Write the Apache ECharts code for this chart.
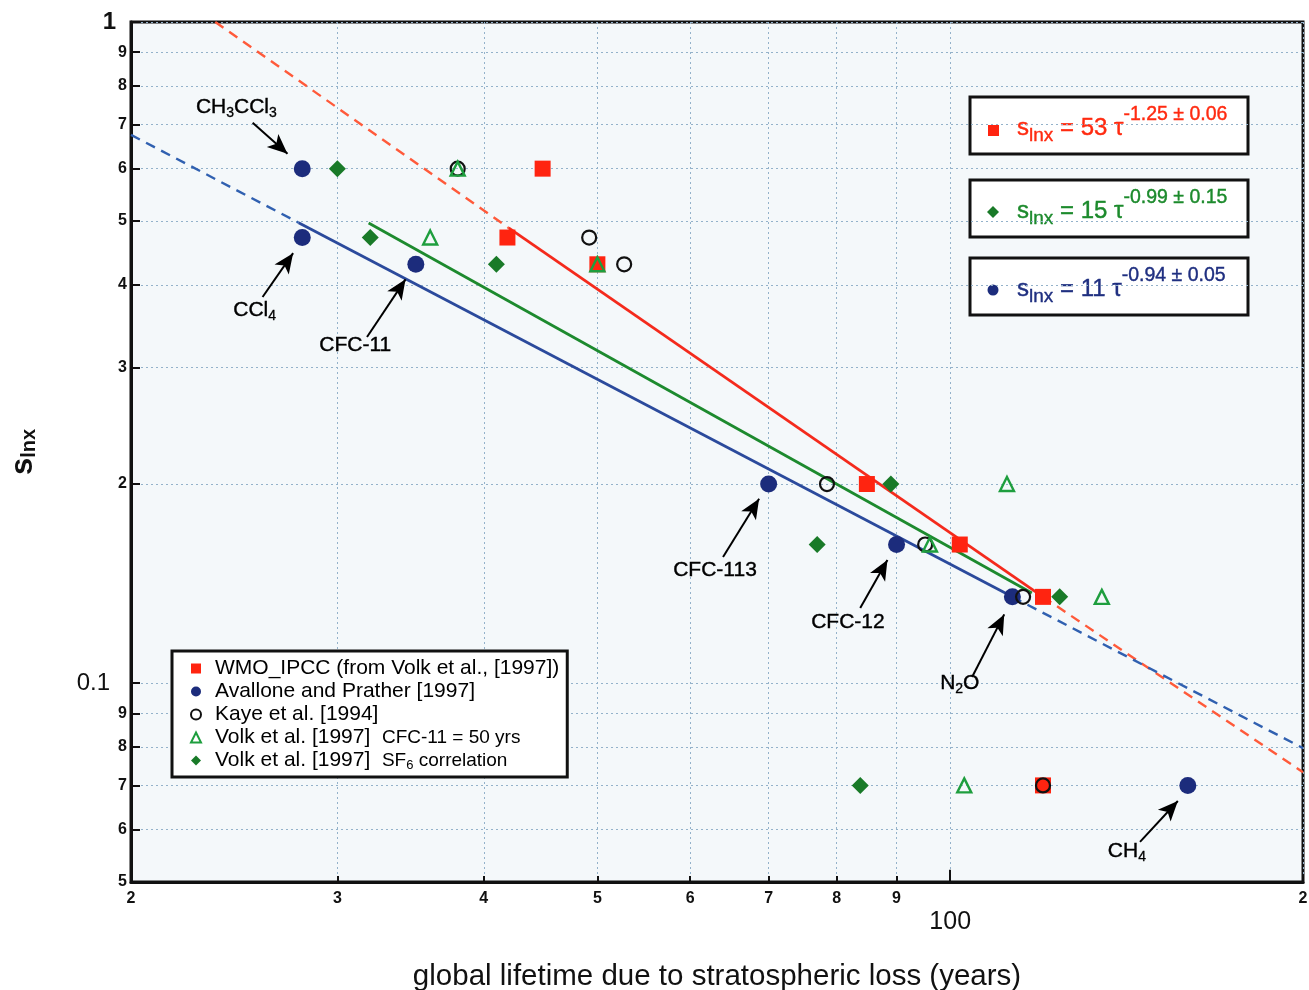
<!DOCTYPE html>
<html><head><meta charset="utf-8">
<script src="https://cdn.jsdelivr.net/npm/echarts@6/dist/echarts.min.js"></script>
<style>html,body{margin:0;padding:0;background:#fff}#chart{width:1309px;height:990px}</style>
</head><body><div id="chart"></div>
<script>
// ---------- axis ticks ----------
const xTicks = [20, 30, 40, 50, 60, 70, 80, 90, 100, 200];
const yTicks = [0.05, 0.06, 0.07, 0.08, 0.09, 0.1, 0.2, 0.3, 0.4, 0.5, 0.6, 0.7, 0.8, 0.9, 1];

// ---------- data (lifetime [yr], s_lnx) ----------
const wmoData      = [[44.9, 0.6], [41.9, 0.472], [50, 0.43], [84.9, 0.2], [101.9, 0.162], [120, 0.135], [120, 0.07]];
const avalloneData = [[28, 0.6], [28, 0.472], [35, 0.43], [70, 0.2], [90, 0.162], [113, 0.135], [159.5, 0.07]];
const kayeData     = [[38, 0.6], [49.2, 0.472], [52.7, 0.43], [78.5, 0.2], [95.2, 0.162], [115.4, 0.135], [120, 0.07]];
const volk50Data   = [[38, 0.6], [36, 0.472], [50, 0.43], [111.8, 0.2], [96.1, 0.162], [134.7, 0.135], [102.8, 0.07]];
const volkSF6Data  = [[30, 0.6], [32, 0.472], [41, 0.43], [89, 0.2], [77, 0.162], [124, 0.135], [83.8, 0.07]];

// ---------- fit lines ----------
const redFitSolid   = [[42, 0.488], [120, 0.135]];
const redFitLeft    = [[23.6, 1.0], [42, 0.488]];
const redFitRight   = [[120, 0.135], [200, 0.0733]];
const blueFitSolid  = [[27.8, 0.497], [113, 0.135]];
const blueFitLeft   = [[20, 0.675], [27.8, 0.497]];
const blueFitRight  = [[113, 0.135], [200, 0.0797]];
const greenFitSolid = [[31.9, 0.4966], [117.4, 0.1368]];

// ---------- annotations ----------
const annotNames = ['CH{sub|3}CCl{sub|3}', 'CCl{sub|4}', 'CFC-11', 'CFC-113', 'CFC-12', 'N{sub|2}O', 'CH{sub|4}'];
const annotTextPos = [[24.6, 0.744], [25.5, 0.3666], [31.07, 0.3246], [63.0, 0.148], [81.8, 0.1237], [101.9, 0.1], [141.5, 0.0557]];
const arrowTail = [[25.4, 0.704], [25.9, 0.3837], [31.8, 0.3338], [64.0, 0.1551], [83.8, 0.1299], [104.4, 0.1021], [145.2, 0.0575]];
const arrowHead = [[27.2, 0.632], [27.5, 0.4470], [34.3, 0.4080], [68.7, 0.1900], [88.4, 0.1535], [111.2, 0.1270], [156.4, 0.0663]];

// ---------- legend / equation text ----------
const seriesNames = ['WMO_IPCC (from Volk et al., [1997])', 'Avallone and Prather [1997]', 'Kaye et al. [1994]',
  'Volk et al. [1997]  CFC-11 = 50 yrs', 'Volk et al. [1997]  SF6 correlation'];
const fitCoefs = ['53', '15', '11'];
const fitExps = ['-1.25 ± 0.06', '-0.99 ± 0.15', '-0.94 ± 0.05'];

const FONT = '"Liberation Sans", Arial, Helvetica, sans-serif';
const C_RED = '#ff2410', C_NAVY = '#1c2c7c', C_TRI = '#1e9e3e', C_DIA = '#197a28';
const C_REDLINE = '#f42a1c', C_REDDASH = '#ff5a3a', C_GREENLINE = '#1d8a2e', C_BLUELINE = '#2b4a9c', C_BLUEDASH = '#3060b0';
const C_EQ = ['#ff2a10', '#1c8a2c', '#1f2f80'];

function fitLine(data, color, dashed, width) {
  return { type: 'line', data: data, showSymbol: false, symbol: 'none', silent: true, z: 2, animation: false,
    lineStyle: { color: color, width: width || 2.6, type: dashed ? [10, 7] : 'solid' } };
}

function eqBox(i, top, marker) {
  const children = [
    { type: 'rect', shape: { x: 0, y: 0, width: 278, height: 57 }, style: { fill: '#fff', stroke: '#111', lineWidth: 3 } },
    marker,
    { type: 'text', x: 47, y: 31, style: {
      text: '{s|s}{sub|lnx}{m| = ' + fitCoefs[i] + ' τ}{sup|' + fitExps[i] + '}',
      verticalAlign: 'middle', align: 'left', fill: C_EQ[i], font: '24px ' + FONT,
      stroke: C_EQ[i], lineWidth: 0.4,
      rich: {
        s: { fontSize: 24, fontFamily: FONT, fill: C_EQ[i], stroke: C_EQ[i], lineWidth: 0.4 },
        sub: { fontSize: 19, fontFamily: FONT, fill: C_EQ[i], stroke: C_EQ[i], lineWidth: 0.4, padding: [16, 0, 0, 0] },
        m: { fontSize: 24, fontFamily: FONT, fill: C_EQ[i], stroke: C_EQ[i], lineWidth: 0.4 },
        sup: { fontSize: 19.5, fontFamily: FONT, fill: C_EQ[i], stroke: C_EQ[i], lineWidth: 0.4, padding: [0, 0, 26, 0] }
      } } }
  ];
  return { type: 'group', x: 970, y: top, children: children, z: 100 };
}

const chart = echarts.init(document.getElementById('chart'), null, { renderer: 'canvas' });

const option = {
  animation: false,
  backgroundColor: '#fff',
  grid: { left: 131, right: 6, top: 22, bottom: 108, show: true, backgroundColor: '#f4f8fa',
    borderColor: '#111', borderWidth: 3, containLabel: false, outerBoundsMode: 'none' },
  xAxis: {
    type: 'log', logBase: 10, min: 20, max: 200,
    axisLine: { show: true, lineStyle: { color: '#111', width: 3 } },
    axisTick: { show: true, inside: true, length: 6, customValues: xTicks, lineStyle: { color: '#111', width: 2 } },
    axisLabel: { show: true, customValues: xTicks, margin: 9, showMinLabel: true, showMaxLabel: true,
      fontFamily: FONT, fontWeight: 'bold', fontSize: 16, color: '#111',
      formatter: function (v) { const r = Math.round(v); if (r === 100) return '{big|100}'; if (r === 200) return '2'; return String(r / 10); },
      rich: { big: { fontSize: 25, fontWeight: 'normal', fontFamily: FONT, color: '#111', padding: [19, 0, 0, 0] } } },
    splitLine: { show: true, lineStyle: { color: '#94b2ca', type: [2, 3], width: 1 } },
    name: 'global lifetime due to stratospheric loss (years)', nameLocation: 'middle', nameGap: 80,
    nameTextStyle: { fontSize: 29.5, fontFamily: FONT, color: '#111' }
  },
  yAxis: {
    type: 'log', logBase: 10, min: 0.05, max: 1,
    axisLine: { show: true, lineStyle: { color: '#111', width: 3 } },
    axisTick: { show: true, inside: true, length: 9, customValues: yTicks, lineStyle: { color: '#111', width: 2 } },
    axisLabel: { show: true, customValues: yTicks, margin: 4, showMinLabel: true, showMaxLabel: true,
      fontFamily: FONT, fontWeight: 'bold', fontSize: 16, color: '#111',
      formatter: function (v) {
        if (Math.abs(v - 1) < 1e-9) return '{one|1}';
        if (Math.abs(v - 0.1) < 1e-9) return '{big|0.1}';
        if (v < 0.1) return String(Math.round(v * 100));
        return String(Math.round(v * 10));
      },
      rich: {
        one: { fontSize: 24, fontWeight: 'bold', fontFamily: FONT, color: '#111', padding: [0, 11, 0, 0] },
        big: { fontSize: 24, fontWeight: 'normal', fontFamily: FONT, color: '#111', padding: [0, 17, 0, 0] }
      } },
    splitLine: { show: true, lineStyle: { color: '#94b2ca', type: [2, 3], width: 1 } },
    name: '{s|s}{sub|lnx}', nameLocation: 'middle', nameGap: 92, nameRotate: 90,
    nameTextStyle: { color: '#111', fontFamily: FONT,
      rich: { s: { fontSize: 31, fontWeight: 'bold', fontFamily: FONT, color: '#111' },
              sub: { fontSize: 20, fontWeight: 'bold', fontFamily: FONT, color: '#111', padding: [12, 0, 0, 0] } } }
  },
  legend: {
    left: 172, top: 651, orient: 'vertical', selectedMode: false,
    data: seriesNames,
    backgroundColor: '#fff', borderColor: '#111', borderWidth: 3, borderRadius: 0,
    padding: [6, 8, 5, 18], itemWidth: 10, itemHeight: 10, itemGap: 0, symbolKeepAspect: true,
    textStyle: { fontFamily: FONT, fontSize: 21, color: '#000', lineHeight: 23,
      rich: { g: { width: 9, fontSize: 21, fontFamily: FONT },
              sm: { fontSize: 19, fontFamily: FONT, color: '#000' },
              sb: { fontSize: 13, fontFamily: FONT, color: '#000', lineHeight: 13, padding: [10, 0, 0, 0] } } },
    formatter: function (name) {
      if (name === seriesNames[3]) return '{g| }Volk et al. [1997]  {sm|CFC-11 = 50 yrs}';
      if (name === seriesNames[4]) return '{g| }Volk et al. [1997]  {sm|SF}{sb|6}{sm| correlation}';
      return '{g| }' + name;
    }
  },
  graphic: [
    eqBox(0, 97, { type: 'rect', shape: { x: 18, y: 28, width: 11, height: 11 }, style: { fill: C_RED } }),
    eqBox(1, 180, { type: 'polygon', shape: { points: [[23, 26], [29, 32], [23, 38], [17, 32]] }, style: { fill: C_DIA } }),
    eqBox(2, 258, { type: 'circle', shape: { cx: 23, cy: 32, r: 5.5 }, style: { fill: C_NAVY } })
  ],
  series: [
    fitLine(redFitLeft, C_REDDASH, true, 2.4),
    fitLine(redFitRight, C_REDDASH, true, 2.4),
    fitLine(blueFitLeft, C_BLUEDASH, true, 2.4),
    fitLine(blueFitRight, C_BLUEDASH, true, 2.4),
    fitLine(blueFitSolid, C_BLUELINE, false, 2.8),
    fitLine(greenFitSolid, C_GREENLINE, false, 2.8),
    fitLine(redFitSolid, C_REDLINE, false, 2.8),
    { name: seriesNames[0], type: 'scatter', data: wmoData, symbol: 'rect', symbolSize: 16, z: 3, symbolKeepAspect: true,
      itemStyle: { color: C_RED, opacity: 1 } },
    { name: seriesNames[1], type: 'scatter', data: avalloneData, symbol: 'circle', symbolSize: 17, z: 4, symbolKeepAspect: true,
      itemStyle: { color: C_NAVY, opacity: 1 } },
    { name: seriesNames[2], type: 'scatter', data: kayeData, symbol: 'circle', symbolSize: 14, z: 5, symbolKeepAspect: true,
      itemStyle: { color: 'rgba(0,0,0,0)', borderColor: '#111', borderWidth: 2.2, opacity: 1 } },
    { name: seriesNames[3], type: 'scatter', data: volk50Data, symbol: 'triangle', symbolSize: 14, z: 6, symbolKeepAspect: true,
      itemStyle: { color: 'rgba(0,0,0,0)', borderColor: C_TRI, borderWidth: 2.4, opacity: 1 } },
    { name: seriesNames[4], type: 'scatter', data: volkSF6Data, symbol: 'diamond', symbolSize: 17, z: 7, symbolKeepAspect: true,
      itemStyle: { color: C_DIA, opacity: 1 } },
    { name: 'annotations', type: 'scatter', silent: true, z: 8, symbolSize: 1,
      itemStyle: { color: 'rgba(0,0,0,0)' },
      data: annotTextPos.map(function (p, i) { return { value: p, lbl: annotNames[i] }; }),
      label: { show: true, position: 'inside', formatter: function (p) { return p.data.lbl; },
        fontFamily: FONT, fontSize: 21, color: '#000', opacity: 1, textBorderColor: '#000', textBorderWidth: 0.4,
        rich: { sub: { fontSize: 14, fontFamily: FONT, color: '#000', textBorderColor: '#000', textBorderWidth: 0.3, padding: [12, 0, 0, 0] } } },
      markLine: { silent: true, animation: false, symbol: ['none', 'arrow'], symbolSize: [13, 20],
        lineStyle: { color: '#000', width: 2, type: 'solid' }, label: { show: false },
        emphasis: { disabled: true },
        data: arrowTail.map(function (t, i) { return [{ coord: t }, { coord: arrowHead[i] }]; }) }
    },
    { name: 'tick100', type: 'scatter', silent: true, symbolSize: 0, data: [[100, 0.05]], z: 9,
      itemStyle: { color: 'rgba(0,0,0,0)' },
      markLine: { silent: true, animation: false, symbol: ['none', 'none'], label: { show: false },
        lineStyle: { color: '#111', width: 2, type: 'solid' },
        data: [[{ coord: [100, 0.05] }, { coord: [100, 0.0522] }]] } }
  ]
};
chart.setOption(option);
</script>
</body></html>
